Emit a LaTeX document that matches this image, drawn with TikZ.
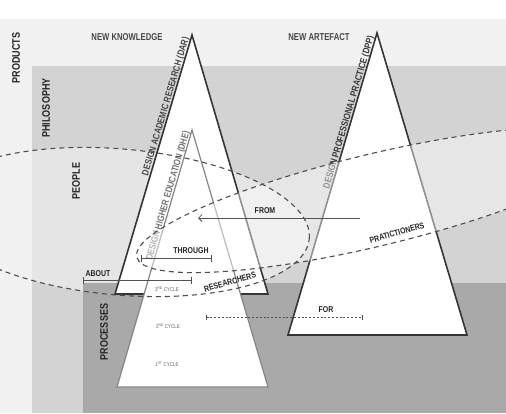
\documentclass[tikz,border=0pt]{standalone}
\usepackage{fontspec}
\setmainfont{Liberation Sans}
\newfontfamily\cf[FakeStretch=0.82]{Liberation Sans}
\newfontfamily\cft[FakeStretch=0.77]{Liberation Sans}
\usetikzlibrary{arrows.meta}
\definecolor{prodc}{HTML}{F1F1F1}
\definecolor{philc}{HTML}{D3D3D3}
\definecolor{peoplec}{HTML}{E5E5E5}
\definecolor{procc}{HTML}{A9A9A9}
\definecolor{edgec}{HTML}{353535}
\definecolor{dhec}{HTML}{858585}
\definecolor{dashc}{HTML}{4D4D4D}
\definecolor{txtc}{HTML}{252525}
\begin{document}
\begin{tikzpicture}[x=1pt,y=-1pt,
  band/.style={font=\cf\bfseries\fontsize{11}{11}\selectfont, text=txtc, rotate=90, inner sep=0pt},
  toplabel/.style={font=\cft\bfseries\fontsize{10}{10}\selectfont, text=black!72, inner sep=0pt},
  tlabel/.style={font=\cf\bfseries\fontsize{9.5}{9.5}\selectfont, inner sep=0pt, anchor=base east},
  smalllabel/.style={font=\cf\bfseries\fontsize{8.5}{8.5}\selectfont, text=txtc, inner sep=0pt},
  cyc/.style={font=\cf\fontsize{5.5}{5.5}\selectfont, text=black!62, inner sep=0pt},
  ell/.style={draw=dashc, line width=1.1pt, dash pattern=on 5pt off 4pt},
  tri/.style={fill=white, draw=edgec, line width=1.6pt, line join=miter},
  meas/.style={draw=black!68, line width=0.9pt, {Bar[width=7pt,line width=0.9pt]}-{Bar[width=7pt,line width=0.9pt]}}
]
\useasboundingbox (0,0) rectangle (506,413);
\fill[white] (0,0) rectangle (506,413);
% bands
\fill[prodc] (0,19) rectangle (506,413);
\fill[philc] (32,66) rectangle (506,413);
\coordinate (e1c) at (120,222);
\coordinate (e2c) at (375,200);
\begin{scope}
  \clip (32,66) rectangle (506,413);
  \fill[peoplec, shift={(e1c)}, rotate=-5] (0,0) ellipse [x radius=190pt, y radius=73pt];
\end{scope}
\fill[procc] (83,283) rectangle (506,413);
% triangles
\coordinate (dppA) at (377,33);
\coordinate (dppL) at (288,335);
\coordinate (dppR) at (467,335);
\coordinate (darA) at (192,35);
\coordinate (darL) at (115,294);
\coordinate (darR) at (268,294);
\coordinate (dheA) at (192,130);
\coordinate (dheL) at (117,387);
\coordinate (dheR) at (268,387);
\draw[tri] (dppA) -- (dppL) -- (dppR) -- cycle;
\draw[tri] (darA) -- (darL) -- (darR) -- cycle;
\draw[tri, draw=dhec, line width=1.2pt] (dheA) -- (dheL) -- (dheR) -- cycle;
% triangle labels
\node[tlabel, text=black!72, rotate=73.45] (darT) at (189,38) {DESIGN ACADEMIC RESEARCH (DAR)};
\node[tlabel, text=black!78, rotate=73.6] (dppT) at (374,36.5) {DESIGN PROFESSIONAL PRACTICE (DPP)};
\node[tlabel, text=black!55, rotate=73.7] (dheT) at (189.5,132) {DESIGN HIGHER EDUCATION (DHE)};
% cycles
\node[cyc] (c3) at (167,289) {3\textsuperscript{RD} CYCLE};
\node[cyc] (c2) at (168,326) {2\textsuperscript{ND} CYCLE};
\node[cyc] (c1) at (167,364) {1\textsuperscript{ST} CYCLE};
% practitioners overlay
\fill[white, opacity=0.45, shift={(e2c)}, rotate=13.5] (0,0) ellipse [x radius=245pt, y radius=46pt];
% dashed ellipses
\draw[ell, shift={(e1c)}, rotate=-5] (0,0) ellipse [x radius=190pt, y radius=73pt];
\draw[ell, shift={(e2c)}, rotate=13.5] (0,0) ellipse [x radius=245pt, y radius=46pt];
% band labels
\node[band] (prod) at (16,58) {PRODUCTS};
\node[band] (phil) at (46,108) {PHILOSOPHY};
\node[band] (peop) at (76,181) {PEOPLE};
\node[band] (proc) at (104,332) {PROCESSES};
\node[toplabel] (nk) at (127,37.5) {NEW KNOWLEDGE};
\node[toplabel] (na) at (319,37.5) {NEW ARTEFACT};
% relations
\node[smalllabel, rotate=16] (res) at (230,282) {RESEARCHERS};
\node[smalllabel, rotate=16] (pra) at (397,233) {PRATICTIONERS};
\node[smalllabel] (thr) at (191,251) {THROUGH};
\node[smalllabel] (abt) at (98,274) {ABOUT};
\node[smalllabel] (frm) at (265,211) {FROM};
\node[smalllabel] (for) at (326,310) {FOR};
\coordinate (thrL) at (141,258);
\coordinate (thrR) at (212,258);
\coordinate (abtL) at (83,280);
\coordinate (abtR) at (192,280);
\coordinate (frmS) at (360,218);
\coordinate (frmT) at (198,218);
\coordinate (forL) at (206,317);
\coordinate (forR) at (363,317);
\draw[meas] (thrL) -- (thrR);
\draw[meas] (abtL) -- (abtR);
\draw[draw=black!68, line width=0.9pt, -{Straight Barb[length=3.5pt,width=7pt,line width=0.8pt]}] (frmS) -- (frmT);
\draw[meas, dash pattern=on 2pt off 1.8pt, {Bar[width=5pt,line width=0.9pt]}-{Bar[width=5pt,line width=0.9pt]}] (forL) -- (forR);
\end{tikzpicture}
\end{document}
